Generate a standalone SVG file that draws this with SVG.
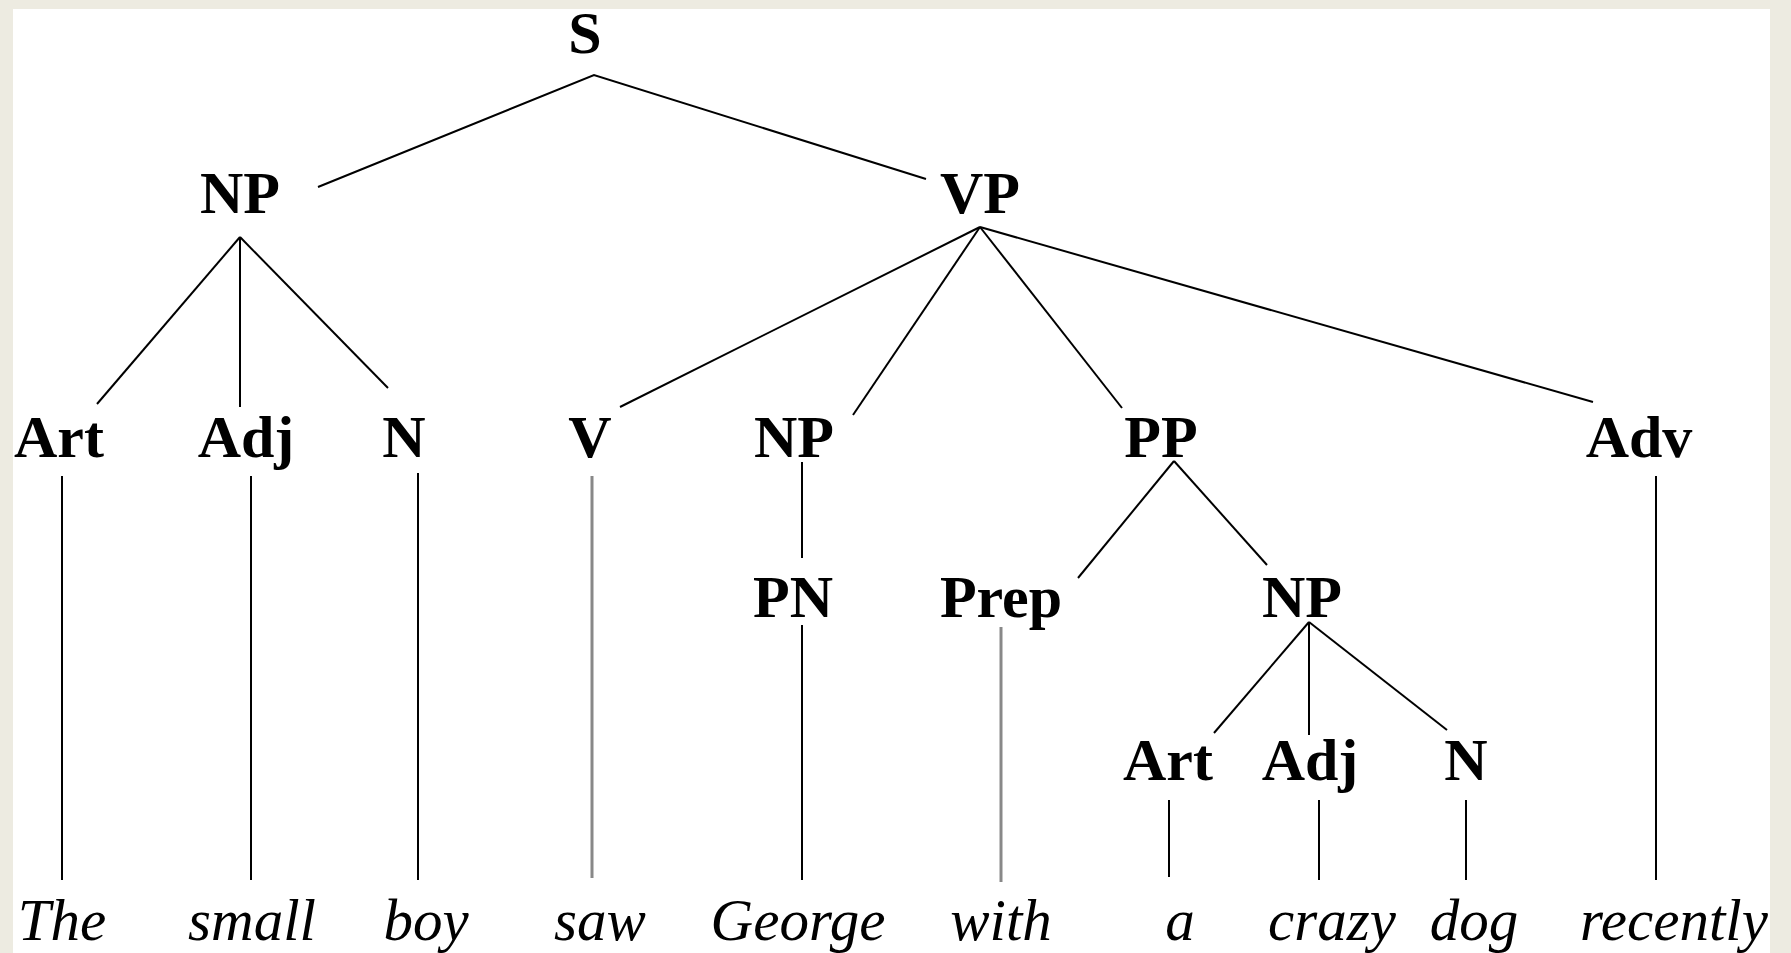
<svg xmlns="http://www.w3.org/2000/svg" width="1791" height="953" viewBox="0 0 1791 953">
<style>
.cat{font-family:"Liberation Serif","Times New Roman",serif;font-weight:bold;font-size:60px;fill:#000;text-anchor:middle}
.word{font-family:"Liberation Serif","Times New Roman",serif;font-style:italic;font-size:59px;fill:#000;text-anchor:middle}
.e{stroke:#000;stroke-width:2;fill:none}
.g{stroke:#888;stroke-width:3;fill:none}
</style>
<rect x="0" y="0" width="1791" height="953" fill="#EDEBE1"/>
<rect x="13" y="9" width="1757" height="944" fill="#FFFFFF"/>
<g id="connectors">
<polyline class="e" points="318,187 594,75 926,179"/>
<line class="e" x1="240" y1="237" x2="97" y2="404"/>
<line class="e" x1="240" y1="237" x2="240" y2="407"/>
<line class="e" x1="240" y1="237" x2="388" y2="388"/>
<line class="e" x1="980" y1="227" x2="620" y2="407"/>
<line class="e" x1="980" y1="227" x2="853" y2="415"/>
<line class="e" x1="980" y1="227" x2="1122" y2="408"/>
<line class="e" x1="980" y1="227" x2="1593" y2="402"/>
<line class="e" x1="62" y1="476" x2="62" y2="880"/>
<line class="e" x1="251" y1="476" x2="251" y2="880"/>
<line class="e" x1="418" y1="473" x2="418" y2="880"/>
<line class="g" x1="592" y1="476" x2="592" y2="878"/>
<line class="e" x1="802" y1="462" x2="802" y2="558"/>
<line class="e" x1="802" y1="625" x2="802" y2="880"/>
<line class="e" x1="1174" y1="461" x2="1078" y2="578"/>
<line class="e" x1="1174" y1="461" x2="1267" y2="565"/>
<line class="g" x1="1001" y1="627" x2="1001" y2="882"/>
<line class="e" x1="1309" y1="622" x2="1214" y2="733"/>
<line class="e" x1="1309" y1="622" x2="1309" y2="735"/>
<line class="e" x1="1309" y1="622" x2="1447" y2="730"/>
<line class="e" x1="1169" y1="800" x2="1169" y2="877"/>
<line class="e" x1="1319" y1="800" x2="1319" y2="880"/>
<line class="e" x1="1466" y1="800" x2="1466" y2="880"/>
<line class="e" x1="1656" y1="476" x2="1656" y2="880"/>
</g>
<g id="n-S"><text class="cat" x="585" y="53">S</text></g>
<g id="n-NP1"><text class="cat" x="240" y="213">NP</text></g>
<g id="n-VP"><text class="cat" x="980" y="213">VP</text></g>
<g id="n-Art1"><text class="cat" x="59" y="457">Art</text></g>
<g id="n-Adj1"><text class="cat" x="246" y="457">Adj</text></g>
<g id="n-N1"><text class="cat" x="404" y="457">N</text></g>
<g id="n-V"><text class="cat" x="590" y="457">V</text></g>
<g id="n-NP2"><text class="cat" x="794" y="457">NP</text></g>
<g id="n-PP"><text class="cat" x="1161" y="457">PP</text></g>
<g id="n-Adv"><text class="cat" x="1639" y="457">Adv</text></g>
<g id="n-PN"><text class="cat" x="793" y="617">PN</text></g>
<g id="n-Prep"><text class="cat" x="1001" y="617">Prep</text></g>
<g id="n-NP3"><text class="cat" x="1302" y="617">NP</text></g>
<g id="n-Art2"><text class="cat" x="1168" y="780">Art</text></g>
<g id="n-Adj2"><text class="cat" x="1310" y="780">Adj</text></g>
<g id="n-N2"><text class="cat" x="1466" y="780">N</text></g>
<g id="w-The"><text class="word" x="62" y="940">The</text></g>
<g id="w-small"><text class="word" x="252" y="940">small</text></g>
<g id="w-boy"><text class="word" x="426" y="940">boy</text></g>
<g id="w-saw"><text class="word" x="600" y="940">saw</text></g>
<g id="w-George"><text class="word" x="798" y="940">George</text></g>
<g id="w-with"><text class="word" x="1001" y="940">with</text></g>
<g id="w-a"><text class="word" x="1180" y="940">a</text></g>
<g id="w-crazy"><text class="word" x="1332" y="940">crazy</text></g>
<g id="w-dog"><text class="word" x="1474" y="940">dog</text></g>
<g id="w-recently"><text class="word" x="1674" y="940">recently</text></g>
</svg>
